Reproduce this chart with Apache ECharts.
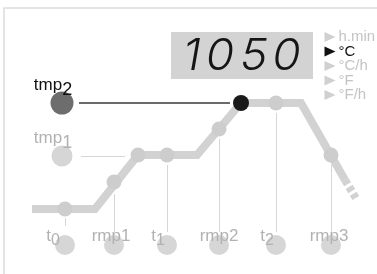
<!DOCTYPE html>
<html>
<head>
<meta charset="utf-8">
<script src="https://cdn.jsdelivr.net/npm/echarts@6/dist/echarts.min.js"></script>
<style>
  html, body { margin: 0; padding: 0; background: #fff; }
  #main { width: 377px; height: 274px; }
</style>
</head>
<body>
<div id="main"></div>
<script>
// firing profile, drawn on an x = time / y = temperature scale (y runs downward)
var profileX = [32, 95, 138, 197, 241, 301, 345];
var profileY = [209, 209, 155, 155, 103, 103, 180];
var tailX = [345, 357];
var tailY = [180, 200];

// program steps
var stepNames = ['t0', 'rmp1', 't1', 'rmp2', 't2', 'rmp3'];
var stepX = [65, 114, 167, 219, 276, 331];
var stepY = [209, 182, 155, 129, 103, 155];
var guideTop = [218, 194, 165, 139, 113, 165];
var guideBottom = [226, 232, 232, 232, 232, 232];
var buttonY = 245;

// extra knots on the curve
var kneeX = [138];
var kneeY = [155];
var peakX = 241;
var peakY = 103;

// temperature levels
var levelNames = ['tmp1', 'tmp2'];
var levelY = [156, 103];
var levelX = 62;
var levelLineEnd = [125, 230];

// display
var displayValue = '1050';
var units = ['h.min', '°C', '°C/h', '°F', '°F/h'];
var activeUnit = '°C';

var dom = document.getElementById('main');
var myChart = echarts.init(dom);

function sub(name) {
  var m = name.match(/^(t|tmp)(\d)$/);
  if (m) return '{b|' + m[1] + '}{s|' + m[2] + '}';
  return '{b|' + name + '}';
}

var labelDx = [-12, -3, -9, 0, -9, -2];

// one text per digit so they sit in fixed cells like an LCD
var digitText = displayValue.split('').map(function (d, i) {
  return {
    type: 'text',
    x: 201 + i * 33.2,
    y: 57,
    scaleX: 1.15,
    scaleY: 1.1,
    style: {
      text: d,
      font: 'italic 300 40px Inter, "DejaVu Sans", sans-serif',
      fill: '#151515',
      align: 'right',
      verticalAlign: 'middle'
    }
  };
});

var option = {
  animation: false,
  grid: { left: 0, right: 0, top: 0, bottom: 0 },
  xAxis: { type: 'value', min: 0, max: 377, show: false },
  yAxis: { type: 'value', min: 0, max: 274, inverse: true, show: false },
  graphic: [
    {
      type: 'rect',
      shape: { x: 4, y: 8, width: 420, height: 320 },
      style: { fill: 'none', stroke: '#dcdcdc', lineWidth: 1.5 },
      z: -1
    },
    {
      type: 'rect',
      shape: { x: 171, y: 32, width: 142, height: 47 },
      style: { fill: '#d3d3d3' }
    }
  ].concat(digitText),
  series: [
    {
      type: 'line',
      data: profileX.map(function (x, i) { return [x, profileY[i]]; }),
      symbol: 'none',
      lineStyle: { color: '#d2d2d2', width: 8, cap: 'butt', join: 'miter' },
      z: 2
    },
    {
      type: 'line',
      data: tailX.map(function (x, i) { return [x, tailY[i]]; }),
      symbol: 'none',
      lineStyle: { color: '#d2d2d2', width: 8, type: [5, 3], cap: 'butt' },
      z: 2
    },
    {
      type: 'lines',
      coordinateSystem: 'cartesian2d',
      data: stepX.map(function (x, i) {
        return { coords: [[x, guideTop[i]], [x, guideBottom[i]]] };
      }),
      lineStyle: { color: '#d6d6d6', width: 1, opacity: 1 },
      z: 1
    },
    {
      type: 'lines',
      coordinateSystem: 'cartesian2d',
      data: [
        { coords: [[levelX + 19, levelY[0]], [levelLineEnd[0], levelY[0]]], lineStyle: { color: '#d6d6d6', width: 1 } },
        { coords: [[levelX + 17, levelY[1]], [levelLineEnd[1], levelY[1]]], lineStyle: { color: '#3a3a3a', width: 1.5 } }
      ],
      lineStyle: { opacity: 1 },
      z: 1
    },
    {
      type: 'scatter',
      data: stepX.map(function (x, i) { return [x, stepY[i]]; })
        .concat(kneeX.map(function (x, i) { return [x, kneeY[i]]; })),
      symbolSize: 15,
      itemStyle: { color: '#cdcdcd', opacity: 1 },
      z: 3
    },
    {
      type: 'scatter',
      data: [[peakX, peakY]],
      symbolSize: 16,
      itemStyle: { color: '#1a1a1a', opacity: 1 },
      z: 4
    },
    {
      type: 'scatter',
      data: stepX.map(function (x, i) {
        return {
          value: [x, buttonY],
          label: { offset: [labelDx[i], -9] }
        };
      }),
      symbolSize: 20,
      itemStyle: { color: '#d6d6d6', opacity: 1 },
      label: {
        show: true,
        position: 'inside',
        formatter: function (p) { return sub(stepNames[p.dataIndex]); },
        rich: {
          b: { fontFamily: 'Liberation Sans', fontSize: 17, color: '#b2b2b2' },
          s: { fontFamily: 'Liberation Sans', fontSize: 16, color: '#b2b2b2', padding: [10, 0, 0, 0] }
        }
      },
      z: 3
    },
    {
      type: 'scatter',
      data: levelNames.map(function (n, i) {
        return {
          value: [levelX, levelY[i]],
          symbolSize: i === 1 ? 23 : 21,
          itemStyle: { color: i === 1 ? '#6d6d6d' : '#d6d6d6', opacity: 1 },
          label: {
            rich: {
              b: { fontFamily: 'Liberation Sans', fontSize: 17, color: i === 1 ? '#111' : '#b2b2b2' },
              s: { fontFamily: 'Liberation Sans', fontSize: 18, color: i === 1 ? '#111' : '#b2b2b2', padding: [10, 0, 0, 0] }
            }
          }
        };
      }),
      label: {
        show: true,
        position: 'inside',
        offset: [-9, -18],
        formatter: function (p) { return sub(levelNames[p.dataIndex]); }
      },
      z: 3
    },
    {
      type: 'scatter',
      data: units.map(function (u, i) {
        var on = u === activeUnit;
        return {
          value: [330, 37 + i * 14.5],
          itemStyle: { color: on ? '#111' : '#d0d0d0', opacity: 1 },
          label: { color: on ? '#111' : '#c4c4c4' }
        };
      }),
      symbol: 'triangle',
      symbolRotate: -90,
      symbolSize: [10, 11],
      label: {
        show: true,
        position: 'right',
        distance: 3,
        fontFamily: 'Liberation Sans',
        fontSize: 15,
        formatter: function (p) { return units[p.dataIndex]; }
      },
      z: 3
    }
  ]
};

myChart.setOption(option);
</script>
</body>
</html>
